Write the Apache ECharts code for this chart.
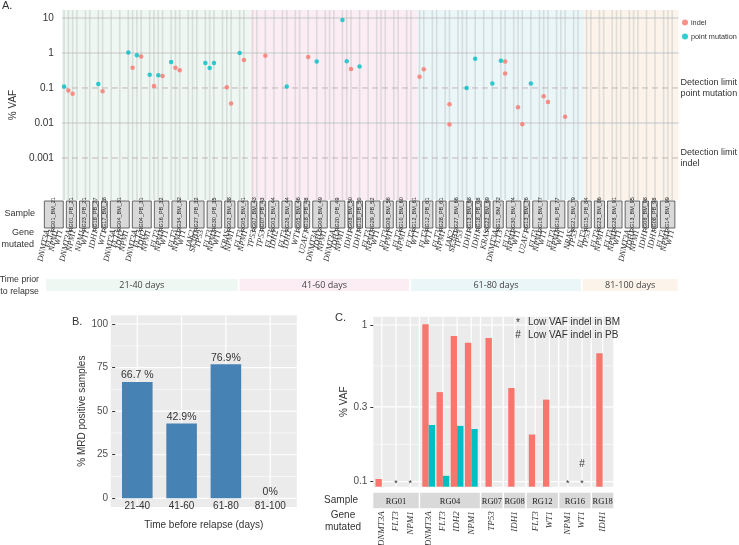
<!DOCTYPE html>
<html>
<head>
<meta charset="utf-8">
<script src="https://cdn.jsdelivr.net/npm/echarts@6.0.0/dist/echarts.min.js"></script>
<style>html,body{margin:0;padding:0;background:#fff;}#chart{width:739px;height:545px;}</style>
</head>
<body>
<div id="chart"></div>
<script>
// ================= Panel A data =================
const timeGroups = ['21-40 days', '41-60 days', '61-80 days', '81-100 days'];
const samplesPerGroup = [12, 14, 13, 7];
const sampleNames = [
  'RG01_BM_21','RG01_PB_21','RG23_PB_21','RG18_PB_27','RG17_BM_28','RG04_BM_31','RG04_PB_31','RG16_PB_32','RG34_BM_32','RG27_PB_32','RG30_PB_35','RG02_BM_38',
  'RG05_BM_41','RG07_BM_43','RG07_PB_43','RG03_BM_44','RG26_BM_44','RG05_BM_46','RG18_PB_48','RG06_BM_49','RG20_PB_49','RG08_BM_50','RG18_PB_50','RG29_PB_52','RG09_BM_56','RG10_BM_60',
  'RG12_BM_61','RG12_PB_61','RG28_PB_61','RG27_BM_66','RG13_BM_68','RG18_PB_68','RG22_BM_69','RG11_BM_72','RG30_BM_74','RG13_BM_76','RG16_BM_77','RG16_PB_77','RG21_BM_79',
  'RG15_PB_84','RG23_BM_86','RG28_BM_91','RG13_BM_95','RG08_BM_98','RG08_PB_98','RG14_BM_99'
];
const sampleGenes = [
  ['DNMT3A','FLT3','NPM1','WT1'], ['DNMT3A','NPM1'], ['NPM1','WT1'], ['IDH1'], ['WT1'],
  ['DNMT3A','FLT3','IDH2','NPM1'], ['DNMT3A','FLT3','IDH2','NPM1'], ['FLT3','NPM1','WT1'], ['FLT3','NPM1','WT1'],
  ['JAK2','SF3B1','TP53'], ['FLT3','NPM1','WT1'], ['KRAS','NPM1'],
  ['FLT3','NPM1'], ['TP53'], ['TP53'], ['FLT3','IDH2'], ['FLT3','IDH2'], ['WT1'], ['U2AF1'],
  ['DNMT3A','IDH2','NPM1'], ['DNMT3A','IDH2','NPM1'], ['IDH1'], ['IDH1'], ['FLT3','NPM1','WT1'], ['FLT3','NPM1'], ['FLT3','NPM1'],
  ['FLT3','WT1'], ['FLT3','WT1'], ['FLT3','NPM1'], ['JAK2','SF3B1','TP53'], ['IDH1'], ['IDH1'], ['KRAS'],
  ['DNMT3A','FLT3'], ['FLT3','NPM1','WT1'], ['U2AF1'], ['FLT3','NPM1','WT1'], ['FLT3','NPM1','WT1'], ['NRAS','TP53'],
  ['FLT3','TP53'], ['FLT3','NPM1'], ['FLT3','NPM1','WT1'], ['DNMT3A','IDH1','NPM1'], ['IDH1'], ['IDH1'], ['FLT3','NPM1','WT1']
];
const pointVAF = [
  [0.11,null,null,null], [], [0.13,null], [], [],
  [1.04,null,0.86,null], [0.24,null,0.23,null], [0.55,null,null], [],
  [0.52,0.37,0.52], [], [1.0,null],
  [], [], [], [null,0.11], [], [], [0.57],
  [], [8.8,0.58,null], [0.41], [], [], [], [],
  [], [], [], [null,null,0.1], [0.68], [], [0.135],
  [0.6,null], [], [0.135], [], [], [],
  [], [], [], [], [], [], []
];
const indelVAF = [
  [null,0.085,0.068,null], [], [null,0.08], [], [],
  [null,0.38,null,0.79], [null,0.114,null,0.22], [null,0.38,0.32], [],
  [], [null,0.105,0.036], [null,0.63],
  [], [0.84], [], [], [], [0.77], [],
  [], [null,null,0.35], [], [], [], [], [],
  [0.21,0.34], [], [null,[0.034,0.009]], [], [], [], [],
  [null,[0.57,0.26]], [null,0.028,0.0092], [], [null,0.058,0.04], [null,null,0.015], [],
  [], [], [], [], [], [], []
];
const yTicksA = [10, 1, 0.1, 0.01, 0.001];
const detectionLimits = [0.1, 0.001];
const detectionLabels = ['Detection limit\npoint mutation', 'Detection limit\nindel'];

// ================= Panel B data =================
const bCategories = ['21-40', '41-60', '61-80', '81-100'];
const bValues = [66.7, 42.9, 76.9, 0];
const bLabels = ['66.7 %', '42.9%', '76.9%', '0%'];
const bTicks = [0, 25, 50, 75, 100];

// ================= Panel C data =================
const cSamples = ['RG01', 'RG04', 'RG07', 'RG08', 'RG12', 'RG16', 'RG18'];
const cGenes = [['DNMT3A','FLT3','NPM1'], ['DNMT3A','FLT3','IDH2','NPM1'], ['TP53'], ['IDH1'], ['FLT3','WT1'], ['NPM1','WT1'], ['IDH1']];
const cBM = [[0.104,null,null], [1.01,0.373,0.85,0.77], [0.826], [0.396], [0.20,0.334], [null,null], [0.66]];
const cPB = [[null,null,null], [0.23,0.109,0.227,0.217], [null], [null], [null,null], [null,null], [null]];
const cLowBM = [['RG01','FLT3'], ['RG01','NPM1'], ['RG16','NPM1'], ['RG16','WT1']];
const cLowPB = [['RG16','WT1']];
const cTicks = [0.1, 0.3, 1];
const cLowBMY = 0.1, cLowPBY = 0.13;

// ================= styles =================
const RED = '#F8766D', TEAL = '#00BFC4';
const bandColors = ['#eef7f2', '#fcedf4', '#ebf6f9', '#fcf4eb'];
const SANS = 'Liberation Sans, Arial, sans-serif';
const SERIF = 'Liberation Serif, Times New Roman, serif';

// ---------- build panel A layout (categories with a blank after each sample) ----------
const catsA = [], sampleSpans = [], groupSpans = [], geneCols = [], indelPts = [], pointPts = [];
let col = 0, si = 0;
samplesPerGroup.forEach((cnt, g) => {
  const gStart = col;
  for (let k = 0; k < cnt; k++, si++) {
    const first = col;
    sampleGenes[si].forEach((gname, j) => {
      catsA.push(gname + '|' + col);
      geneCols.push([col, 1]);
      const pv = pointVAF[si][j], iv = indelVAF[si][j];
      [].concat(pv == null ? [] : pv).forEach(v => pointPts.push([col, v]));
      [].concat(iv == null ? [] : iv).forEach(v => indelPts.push([col, v]));
      col++;
    });
    sampleSpans.push([first, col - 1, 0.5]);
    catsA.push('|' + col); col++;
  }
  groupSpans.push([gStart, col - 1, 1, g]);
});
const nColsA = catsA.length;
const colW = 4.4;
const gridAW = nColsA * colW;
const yMinA = 6.3e-5, yMaxA = 16.9;

// ---------- panel C layout (ggplot facets, free x space) ----------
const facetGap = 0.1;
const cLayout = [];
let u = 0;
cGenes.forEach((genes) => {
  const pad = genes.length === 1 ? 0.75 : 0.6;
  const start = u;
  const end = start + (genes.length - 1) + 2 * pad;
  cLayout.push({ start, end, centers: genes.map((g, j) => start + pad + j) });
  u = end + facetGap;
});
const totalU = u - facetGap;
const yMinC = 0.0929, yMaxC = 1.13;
const cBars = [];
cGenes.forEach((genes, f) => genes.forEach((g, j) => {
  if (cBM[f][j] != null) cBars.push([cLayout[f].centers[j], cBM[f][j], -1]);
  if (cPB[f][j] != null) cBars.push([cLayout[f].centers[j], cPB[f][j], 1]);
}));
function cX(pair) { const f = cSamples.indexOf(pair[0]); return cLayout[f].centers[cGenes[f].indexOf(pair[1])]; }
const cMarks = cLowBM.map(p => [cX(p), cLowBMY, 0]).concat(cLowPB.map(p => [cX(p), cLowPBY, 1]));
const cMarkChars = ['*', '#'];

const chart = echarts.init(document.getElementById('chart'));

function txt(x, y, text, size, align, extra) {
  return Object.assign({ type: 'text', x: x, y: y, z: 100, zlevel: 0,
    style: { text: text, fontSize: size, fill: '#333', align: align, verticalAlign: 'middle', fontFamily: SANS } }, extra || {});
}

const option = {
  animation: false,
  textStyle: { fontFamily: SANS },
  legend: {
    data: ['indel', 'point mutation'], orient: 'vertical', left: 677, top: 14,
    icon: 'circle', itemWidth: 6, itemHeight: 6, itemGap: 7,
    textStyle: { fontSize: 7.3, color: '#333', fontFamily: SANS, padding: [0, 0, 0, -2] }
  },
  grid: [
    { left: 45, width: gridAW, top: 10, height: 190 },
    { left: 45, width: gridAW, top: 201, height: 27 },
    { left: 45, width: gridAW, top: 279, height: 12 },
    { left: 115.15, width: 177.2, top: 324, height: 174.3 },
    { left: 373.3, width: 240, top: 316.7, height: 170 }
  ],
  xAxis: [
    { type: 'category', gridIndex: 0, data: catsA, show: false },
    { type: 'category', gridIndex: 1, data: catsA, axisLine: { show: false }, axisTick: { show: false },
      axisLabel: { interval: 0, rotate: 78, margin: 2, fontFamily: SERIF, fontStyle: 'italic', fontSize: 8.3, color: '#333',
        formatter: v => v.split('|')[0] } },
    { type: 'category', gridIndex: 2, data: catsA, show: false },
    { type: 'category', gridIndex: 3, data: bCategories, z: 10, axisLine: { show: false }, axisTick: { show: false },
      axisLabel: { margin: 3, fontSize: 10, color: '#333' }, splitLine: { show: false },
      name: 'Time before relapse (days)', nameLocation: 'middle', nameGap: 22, nameTextStyle: { fontSize: 10, color: '#333' } },
    { type: 'value', gridIndex: 4, min: 0, max: totalU, show: false }
  ],
  yAxis: [
    { type: 'log', gridIndex: 0, min: yMinA, max: yMaxA, axisLine: { show: false }, axisTick: { show: false }, splitLine: { show: false },
      axisLabel: { fontSize: 10, color: '#333', margin: 8, formatter: v => {
        if (v < 0.0009) return ''; const n = Math.round(Math.log10(v)); return String(Number(Math.pow(10, n).toFixed(Math.max(0, -n)))); } },
      name: '% VAF', nameLocation: 'middle', nameGap: 33, nameTextStyle: { fontSize: 10, color: '#333' } },
    { type: 'value', gridIndex: 1, min: 0, max: 1, show: false },
    { type: 'value', gridIndex: 2, min: 0, max: 1, show: false },
    { type: 'value', gridIndex: 3, min: 0, max: 100, interval: 25, z: 10, axisLine: { show: false }, splitLine: { show: false },
      axisTick: { show: true, length: 3, lineStyle: { color: '#333' } },
      axisLabel: { fontSize: 10, color: '#4d4d4d', margin: 7 },
      name: '% MRD positive samples', nameLocation: 'middle', nameGap: 26, nameTextStyle: { fontSize: 10, color: '#333' } },
    { type: 'log', gridIndex: 4, min: yMinC, max: yMaxC, z: 10, axisLine: { show: false }, splitLine: { show: false },
      axisTick: { show: true, length: 3, customValues: cTicks, lineStyle: { color: '#333' } },
      axisLabel: { fontSize: 10, color: '#4d4d4d', margin: 6, customValues: cTicks, formatter: v => String(Number(v.toPrecision(3))) },
      name: '% VAF', nameLocation: 'middle', nameGap: 17, nameTextStyle: { fontSize: 10, color: '#333' } }
  ],
  graphic: [
    txt(2, 6, 'A.', 11, 'left'),
    txt(72, 322, 'B.', 11, 'left'),
    txt(335, 318, 'C.', 11, 'left'),
    txt(35, 214, 'Sample', 9, 'right'),
    txt(34, 233, 'Gene', 9, 'right'),
    txt(34, 245, 'mutated', 9, 'right'),
    txt(39, 280, 'Time prior', 8.8, 'right'),
    txt(39, 292, 'to relapse', 8.8, 'right'),
    txt(358, 500, 'Sample', 10, 'right'),
    txt(343, 515, 'Gene', 10, 'center'),
    txt(343, 527, 'mutated', 10, 'center'),
    txt(518, 323, '*', 10, 'center'),
    txt(528, 322, 'Low VAF indel in BM', 10, 'left'),
    txt(518, 335, '#', 10, 'center'),
    txt(528, 335, 'Low VAF indel in PB', 10, 'left')
  ],
  series: [
    // ---- Panel A background bands ----
    { type: 'custom', name: 'bands', xAxisIndex: 0, yAxisIndex: 0, z: 1, silent: true,
      data: groupSpans, encode: { x: [0, 1], y: 2 },
      renderItem: (params, api) => {
        const cs = params.coordSys; const w = api.size([1, 1])[0];
        const xa = api.coord([api.value(0), 1])[0] - w / 2, xb = api.coord([api.value(1), 1])[0] + w / 2;
        return { type: 'rect', shape: { x: xa, y: cs.y, width: xb - xa, height: cs.height }, style: { fill: bandColors[api.value(3)] } };
      } },
    // ---- Panel A horizontal reference lines ----
    { type: 'custom', name: 'hlines', xAxisIndex: 0, yAxisIndex: 0, z: 2, silent: true,
      data: yTicksA.map(v => [0, v]), encode: { x: 0, y: 1 },
      renderItem: (params, api) => {
        const cs = params.coordSys; const v = api.value(1); const y = api.coord([0, v])[1];
        const di = detectionLimits.indexOf(v);
        if (di < 0) return { type: 'line', shape: { x1: cs.x, y1: y, x2: cs.x + cs.width, y2: y }, style: { stroke: '#d6d6d6', lineWidth: 1.4 } };
        return { type: 'group', children: [
          { type: 'line', shape: { x1: cs.x, y1: y, x2: cs.x + cs.width, y2: y }, style: { stroke: '#c4b4b4', lineWidth: 1, lineDash: [6, 4] } },
          { type: 'text', x: cs.x + cs.width + 2, y: y, style: { text: detectionLabels[di], fontSize: 9, lineHeight: 11.5, fill: '#333', verticalAlign: 'middle', fontFamily: SANS } }
        ] };
      } },
    // ---- Panel A vertical gene lines ----
    { type: 'custom', name: 'vlines', xAxisIndex: 0, yAxisIndex: 0, z: 3, silent: true,
      data: geneCols, encode: { x: 0, y: 1 },
      renderItem: (params, api) => {
        const cs = params.coordSys; const x = api.coord([api.value(0), 1])[0];
        return { type: 'line', shape: { x1: x, y1: cs.y, x2: x, y2: cs.y + cs.height }, style: { stroke: 'rgba(175,185,182,0.38)', lineWidth: 1.6 } };
      } },
    { type: 'scatter', name: 'indel', xAxisIndex: 0, yAxisIndex: 0, z: 5, data: indelPts, symbolSize: 4.5, itemStyle: { color: RED } },
    { type: 'scatter', name: 'point mutation', xAxisIndex: 0, yAxisIndex: 0, z: 5, data: pointPts, symbolSize: 4.5, itemStyle: { color: TEAL } },
    // ---- Panel A sample boxes ----
    { type: 'custom', name: 'samples', xAxisIndex: 1, yAxisIndex: 1, z: 3, silent: true,
      data: sampleSpans, encode: { x: [0, 1], y: 2 },
      renderItem: (params, api) => {
        const w = api.size([1, 0])[0];
        const p1 = api.coord([api.value(0), 1]), p2 = api.coord([api.value(1), 0]);
        const xa = p1[0] - 0.65 * w, xb = p2[0] + 0.65 * w;
        return { type: 'group', children: [
          { type: 'rect', shape: { x: xa, y: p1[1], width: xb - xa, height: p2[1] - p1[1] }, style: { fill: '#d9d9d9', stroke: '#444', lineWidth: 0.8 } },
          { type: 'text', x: (xa + xb) / 2, y: (p1[1] + p2[1]) / 2, rotation: Math.PI / 2,
            style: { text: sampleNames[params.dataIndex], fontSize: 5.5, fill: '#222', align: 'center', verticalAlign: 'middle', fontFamily: 'Liberation Sans Narrow, Arial Narrow, Liberation Sans, sans-serif' } }
        ] };
      } },
    // ---- Panel A time bars ----
    { type: 'custom', name: 'time', xAxisIndex: 2, yAxisIndex: 2, z: 3, silent: true,
      data: groupSpans.map(s => [s[0], s[1], 0.5, s[3]]), encode: { x: [0, 1], y: 2 },
      renderItem: (params, api) => {
        const cs = params.coordSys; const w = api.size([1, 0])[0];
        const xa = api.coord([api.value(0), 0])[0] - w / 2 + 1, xb = api.coord([api.value(1), 0])[0] + w / 2 - 1;
        return { type: 'group', children: [
          { type: 'rect', shape: { x: xa, y: cs.y, width: xb - xa, height: cs.height }, style: { fill: bandColors[api.value(3)] } },
          { type: 'text', x: (xa + xb) / 2, y: cs.y + cs.height / 2, style: { text: timeGroups[api.value(3)], fontSize: 9, fill: '#444', align: 'center', verticalAlign: 'middle', fontFamily: 'Open Sans, Liberation Sans, sans-serif' } }
        ] };
      } },
    // ---- Panel B background + grid ----
    { type: 'custom', name: 'bgB', xAxisIndex: 3, yAxisIndex: 3, z: 1, silent: true,
      data: [[0, 0]], encode: { x: 0, y: 1 },
      renderItem: (params, api) => {
        const bw = api.size([1, 0])[0];
        const x0 = api.coord([0, 0])[0] - 0.6 * bw, x1 = api.coord([bCategories.length - 1, 0])[0] + 0.6 * bw;
        const span = bTicks[bTicks.length - 1] - bTicks[0];
        const yT = api.coord([0, bTicks[bTicks.length - 1] + 0.05 * span])[1], yB = api.coord([0, bTicks[0] - 0.05 * span])[1];
        const ch = [{ type: 'rect', shape: { x: x0, y: yT, width: x1 - x0, height: yB - yT }, style: { fill: '#EBEBEB' } }];
        for (let i = 0; i < bTicks.length - 1; i++) {
          const y = api.coord([0, (bTicks[i] + bTicks[i + 1]) / 2])[1];
          ch.push({ type: 'line', shape: { x1: x0, y1: y, x2: x1, y2: y }, style: { stroke: '#fff', lineWidth: 0.6 } });
        }
        bTicks.forEach(t => { const y = api.coord([0, t])[1]; ch.push({ type: 'line', shape: { x1: x0, y1: y, x2: x1, y2: y }, style: { stroke: '#fff', lineWidth: 1.2 } }); });
        bCategories.forEach((c, i) => { const x = api.coord([i, 0])[0]; ch.push({ type: 'line', shape: { x1: x, y1: yT, x2: x, y2: yB }, style: { stroke: '#fff', lineWidth: 1.2 } }); });
        return { type: 'group', children: ch };
      } },
    { type: 'bar', name: 'MRD', xAxisIndex: 3, yAxisIndex: 3, z: 3, data: bValues, barWidth: '69%',
      itemStyle: { color: '#4682B4' },
      label: { show: true, position: 'top', distance: 1, fontSize: 10.5, color: '#333', formatter: p => bLabels[p.dataIndex] } },
    // ---- Panel C facets background + grid ----
    { type: 'custom', name: 'bgC', xAxisIndex: 4, yAxisIndex: 4, z: 1, silent: true,
      data: cLayout.map(f => [f.start, f.end, 1]), encode: { x: [0, 1], y: 2 },
      renderItem: (params, api) => {
        const f = cLayout[params.dataIndex];
        const x0 = api.coord([f.start, 1])[0], x1 = api.coord([f.end, 1])[0];
        const yT = api.coord([0, yMaxC])[1], yB = api.coord([0, yMinC])[1];
        const ch = [{ type: 'rect', shape: { x: x0, y: yT, width: x1 - x0, height: yB - yT }, style: { fill: '#EBEBEB' } }];
        for (let i = 0; i < cTicks.length - 1; i++) {
          const y = api.coord([0, Math.sqrt(cTicks[i] * cTicks[i + 1])])[1];
          ch.push({ type: 'line', shape: { x1: x0, y1: y, x2: x1, y2: y }, style: { stroke: '#fff', lineWidth: 0.6 } });
        }
        cTicks.forEach(t => { const y = api.coord([0, t])[1]; ch.push({ type: 'line', shape: { x1: x0, y1: y, x2: x1, y2: y }, style: { stroke: '#fff', lineWidth: 1.2 } }); });
        f.centers.forEach(c => { const x = api.coord([c, 1])[0]; ch.push({ type: 'line', shape: { x1: x, y1: yT, x2: x, y2: yB }, style: { stroke: '#fff', lineWidth: 1.2 } }); });
        return { type: 'group', children: ch };
      } },
    // ---- Panel C bars ----
    { type: 'custom', name: 'barsC', xAxisIndex: 4, yAxisIndex: 4, z: 3,
      data: cBars, encode: { x: 0, y: 1 },
      renderItem: (params, api) => {
        const xc = api.value(0), v = api.value(1), side = api.value(2);
        const xa = side < 0 ? xc - 0.45 : xc;
        const p1 = api.coord([xa, v]), p2 = api.coord([xa + 0.45, yMinC]);
        return { type: 'rect', shape: { x: p1[0], y: p1[1], width: p2[0] - p1[0], height: p2[1] - p1[1] }, style: { fill: side < 0 ? RED : TEAL } };
      } },
    // ---- Panel C low VAF markers ----
    { type: 'custom', name: 'marksC', xAxisIndex: 4, yAxisIndex: 4, z: 4, silent: true,
      data: cMarks, encode: { x: 0, y: 1 },
      renderItem: (params, api) => {
        const p = api.coord([api.value(0), api.value(1)]); const k = api.value(2);
        return { type: 'text', x: p[0], y: p[1] + (k === 0 ? 2 : 0), style: { text: cMarkChars[k], fontSize: k === 0 ? 9 : 10, fill: '#333', align: 'center', verticalAlign: 'middle', fontFamily: SANS } };
      } },
    // ---- Panel C strips + gene labels ----
    { type: 'custom', name: 'stripsC', xAxisIndex: 4, yAxisIndex: 4, z: 3, silent: true,
      data: cLayout.map(f => [f.start, f.end, 1]), encode: { x: [0, 1], y: 2 },
      renderItem: (params, api) => {
        const cs = params.coordSys; const fi = params.dataIndex; const f = cLayout[fi];
        const x0 = api.coord([f.start, 1])[0], x1 = api.coord([f.end, 1])[0];
        const yS = cs.y + cs.height + 6, hS = 15.6;
        const ch = [
          { type: 'rect', shape: { x: x0, y: yS, width: x1 - x0, height: hS }, style: { fill: '#D9D9D9' } },
          { type: 'text', x: (x0 + x1) / 2, y: yS + hS / 2 + 1, style: { text: cSamples[fi], fontSize: 8.5, fill: '#1a1a1a', align: 'center', verticalAlign: 'middle', fontFamily: SERIF } }
        ];
        f.centers.forEach((c, j) => {
          const x = api.coord([c, 1])[0];
          ch.push({ type: 'text', x: x, y: yS + hS + 3, rotation: Math.PI / 2,
            style: { text: cGenes[fi][j], fontSize: 9, fill: '#333', align: 'right', verticalAlign: 'middle', fontStyle: 'italic', fontFamily: SERIF } });
        });
        return { type: 'group', children: ch };
      } }
  ]
};
chart.setOption(option);
</script>
</body>
</html>
